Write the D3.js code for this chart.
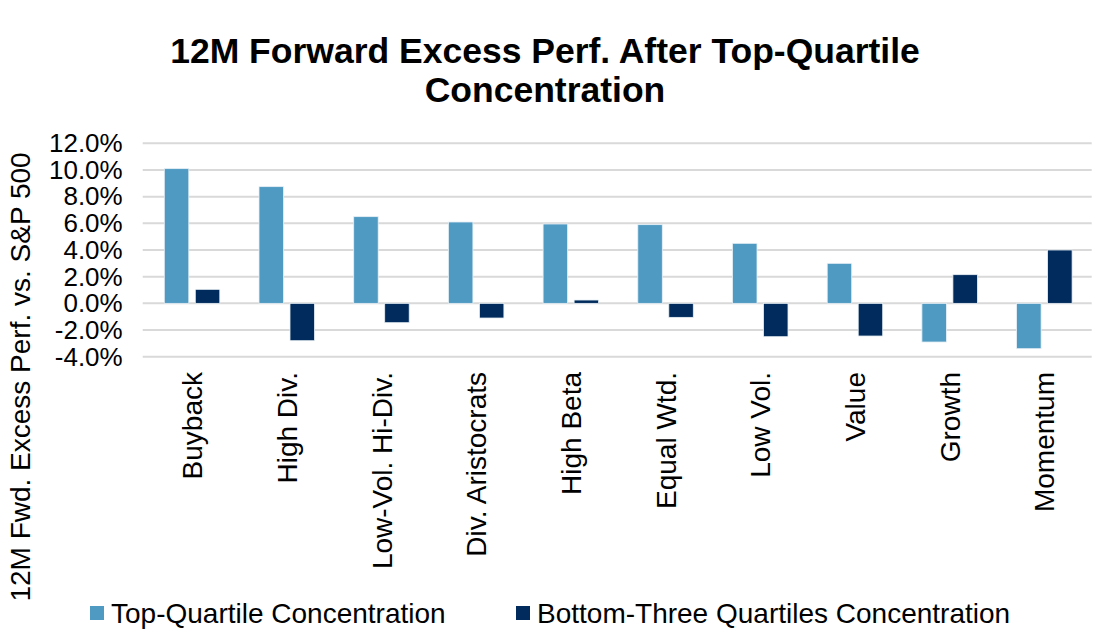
<!DOCTYPE html>
<html>
<head>
<meta charset="utf-8">
<script src="https://cdn.jsdelivr.net/npm/d3@7"></script>
<style>
  body { margin: 0; background: #fff; }
  text { font-family: Arial, "Liberation Sans", sans-serif; fill: #000; }
</style>
</head>
<body>
<svg width="1100" height="642"></svg>
<script>
const svg = d3.select('svg');

// data
const categories = ['Buyback', 'High Div.', 'Low-Vol. Hi-Div.', 'Div. Aristocrats', 'High Beta',
    'Equal Wtd.', 'Low Vol.', 'Value', 'Growth', 'Momentum'];
const seriesNames = ['Top-Quartile Concentration', 'Bottom-Three Quartiles Concentration'];
const topQuartile = [10.1, 8.75, 6.5, 6.1, 5.95, 5.9, 4.5, 3.0, -2.9, -3.4];
const bottomThree = [1.05, -2.8, -1.45, -1.1, 0.25, -1.05, -2.5, -2.45, 2.15, 4.0];
const yTicks = [12, 10, 8, 6, 4, 2, 0, -2, -4];
const colors = ['#4f9ac2', '#002b5c'];

const rows = categories.map((c, i) => ({cat: c, values: [topQuartile[i], bottomThree[i]]}));

const left = 144.7, right = 1091.7;

const x = d3.scaleBand()
    .domain(categories)
    .range([left, right])
    .paddingInner(0.414)
    .paddingOuter(0.207);

const xs = d3.scaleBand()
    .domain([0, 1])
    .range([0, x.bandwidth()])
    .paddingInner(0.21);

const y = d3.scaleLinear()
    .domain([-4, 12])
    .range([356.7, 143.3]);

// title
const title = svg.append('text')
    .attr('x', 545)
    .attr('text-anchor', 'middle')
    .style('font-weight', 'bold')
    .style('font-size', '35.5px');
title.append('tspan').attr('x', 545).attr('y', 63).text('12M Forward Excess Perf. After Top-Quartile');
title.append('tspan').attr('x', 545).attr('y', 102).text('Concentration');

// gridlines
svg.append('g')
    .selectAll('line')
    .data(yTicks)
    .enter().append('line')
    .attr('x1', left - 2)
    .attr('x2', right)
    .attr('y1', d => y(d))
    .attr('y2', d => y(d))
    .attr('stroke', '#d9d9d9')
    .attr('stroke-width', 2);

// y axis labels
const yAxis = svg.append('g')
    .attr('transform', `translate(${left - 22},0)`)
    .call(d3.axisLeft(y).tickValues(yTicks).tickFormat(d => d.toFixed(1) + '%').tickSize(0).tickPadding(0));
yAxis.select('.domain').remove();
yAxis.selectAll('text')
    .style('font-family', 'Arial, "Liberation Sans", sans-serif')
    .style('font-size', '26px')
    .attr('fill', '#000');

// bars
const groups = svg.append('g')
    .selectAll('g')
    .data(rows)
    .enter().append('g')
    .attr('transform', d => `translate(${x(d.cat)},0)`);

groups.selectAll('rect')
    .data(d => d.values.map((v, k) => ({k: k, v: v})))
    .enter().append('rect')
    .attr('x', d => xs(d.k))
    .attr('width', xs.bandwidth())
    .attr('y', d => y(Math.max(0, d.v)))
    .attr('height', d => Math.abs(y(d.v) - y(0)))
    .attr('fill', d => colors[d.k])
    .attr('stroke', '#e8f0f6')
    .attr('stroke-width', 0.8);

// category labels
svg.append('g')
    .selectAll('text')
    .data(categories)
    .enter().append('text')
    .attr('transform', d => `translate(${x(d) + x.bandwidth() / 2},372) rotate(-90)`)
    .attr('text-anchor', 'end')
    .attr('dy', '0.36em')
    .style('font-size', '28px')
    .text(d => d);

// y axis title
svg.append('text')
    .attr('transform', 'translate(20,377) rotate(-90)')
    .attr('text-anchor', 'middle')
    .attr('dy', '0.36em')
    .style('font-size', '28px')
    .text('12M Fwd. Excess Perf. vs. S&P 500');

// legend
const legendX = [90, 516];
const legend = svg.append('g')
    .selectAll('g')
    .data(seriesNames)
    .enter().append('g')
    .attr('transform', (d, i) => `translate(${legendX[i]},613)`);
legend.append('rect')
    .attr('x', 0).attr('y', -7)
    .attr('width', 14).attr('height', 14)
    .attr('fill', (d, i) => colors[i]);
legend.append('text')
    .attr('x', 21)
    .attr('dy', '0.36em')
    .style('font-size', '28px')
    .text(d => d);
</script>
</body>
</html>
